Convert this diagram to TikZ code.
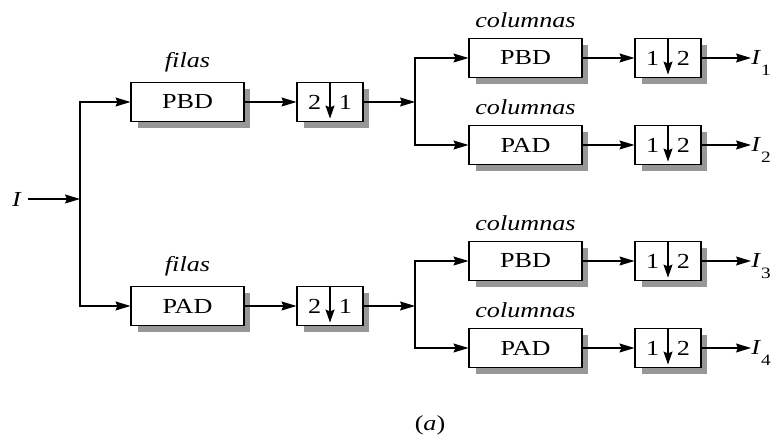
\documentclass[tikz,border=0pt]{standalone}
\usepackage{fontspec}
\setmainfont{Liberation Serif}[FakeStretch=1.22]
\usetikzlibrary{positioning, calc, arrows.meta, shadows}
\definecolor{Sombra}{HTML}{979797}
\newcommand{\tam}{\fontsize{12.2}{14}\selectfont}
\tikzset{
    every node/.style={font=\rmfamily\tam},
    filtro/.style={rectangle, draw=black, line width=0.6pt, fill=white, minimum width=2.26cm, minimum height=0.78cm, inner sep=0pt, drop shadow={shadow xshift=0.13cm, shadow yshift=-0.13cm, fill=Sombra, opacity=1}},
    diezmo/.style={filtro, minimum width=1.32cm},
    etiqueta/.style={font=\rmfamily\tam\itshape, inner sep=1pt},
    arrow/.style={-{Stealth[length=0.3cm, width=0.18cm, inset=0.04cm]}, line width=0.65pt},
    abajo/.style={-{Stealth[length=0.26cm, width=0.18cm, inset=0.04cm]}, line width=0.65pt, shorten >=0.07cm},
}
\newcommand{\salida}[1]{\textit{I}\raisebox{-6pt}{\fontsize{9}{10}\selectfont #1}}

\begin{document}
\begin{tikzpicture}[x=0.02cm, y=-0.02cm]
    \useasboundingbox (0,0) rectangle (775,448);

    % Entrada
    \node (I) at (17,199) {\textit{I}};
    \coordinate (s0) at (80,199);

    % Primera etapa: filtrado por filas y diezmado
    \node[filtro] (f1) at (187.5,102) {PBD};
    \node[filtro] (f2) at (187.5,306) {PAD};
    \node[etiqueta, above=0.16cm of f1] (lf1) {filas};
    \node[etiqueta, above=0.16cm of f2] (lf2) {filas};

    \node[diezmo] (d1) at (330,102) {2\hspace{10pt}1};
    \node[diezmo] (d2) at (330,306) {2\hspace{10pt}1};
    \coordinate (b1) at (415,102);
    \coordinate (b2) at (415,306);

    % Segunda etapa: filtrado por columnas y diezmado
    \node[filtro] (c1) at (525.5,58) {PBD};
    \node[filtro] (c2) at (525.5,145) {PAD};
    \node[filtro] (c3) at (525.5,261) {PBD};
    \node[filtro] (c4) at (525.5,348) {PAD};
    \foreach \i in {1,...,4}
        \node[etiqueta, above=0.16cm of c\i] (lc\i) {columnas};

    \node[diezmo] (e1) at (668,58) {1\hspace{10pt}2};
    \node[diezmo] (e2) at (668,145) {1\hspace{10pt}2};
    \node[diezmo] (e3) at (668,261) {1\hspace{10pt}2};
    \node[diezmo] (e4) at (668,348) {1\hspace{10pt}2};

    % Subbandas de salida
    \node[anchor=west, inner sep=0pt] (o1) at (751,63) {\salida{1}};
    \node[anchor=west, inner sep=0pt] (o2) at (751,150) {\salida{2}};
    \node[anchor=west, inner sep=0pt] (o3) at (751,266) {\salida{3}};
    \node[anchor=west, inner sep=0pt] (o4) at (751,353) {\salida{4}};

    % Flechas de diezmado
    \foreach \n in {d1,d2,e1,e2,e3,e4}
        \draw[abajo] (\n.north) -- (\n.south);

    % Conexiones
    \draw[arrow] (I) -- (s0);
    \draw[arrow] (s0) |- (f1);
    \draw[arrow] (s0) |- (f2);
    \draw[arrow] (f1) -- (d1);
    \draw[arrow] (f2) -- (d2);
    \draw[arrow] (d1) -- (b1);
    \draw[arrow] (d2) -- (b2);
    \draw[arrow] (b1) |- (c1);
    \draw[arrow] (b1) |- (c2);
    \draw[arrow] (b2) |- (c3);
    \draw[arrow] (b2) |- (c4);
    \foreach \i in {1,...,4} {
        \draw[arrow] (c\i) -- (e\i);
        \draw[arrow] (e\i.east) -- (e\i.east -| o\i.west);
    }

    \node (cap) at (430,425) {(\textit{a})};
\end{tikzpicture}
\end{document}
